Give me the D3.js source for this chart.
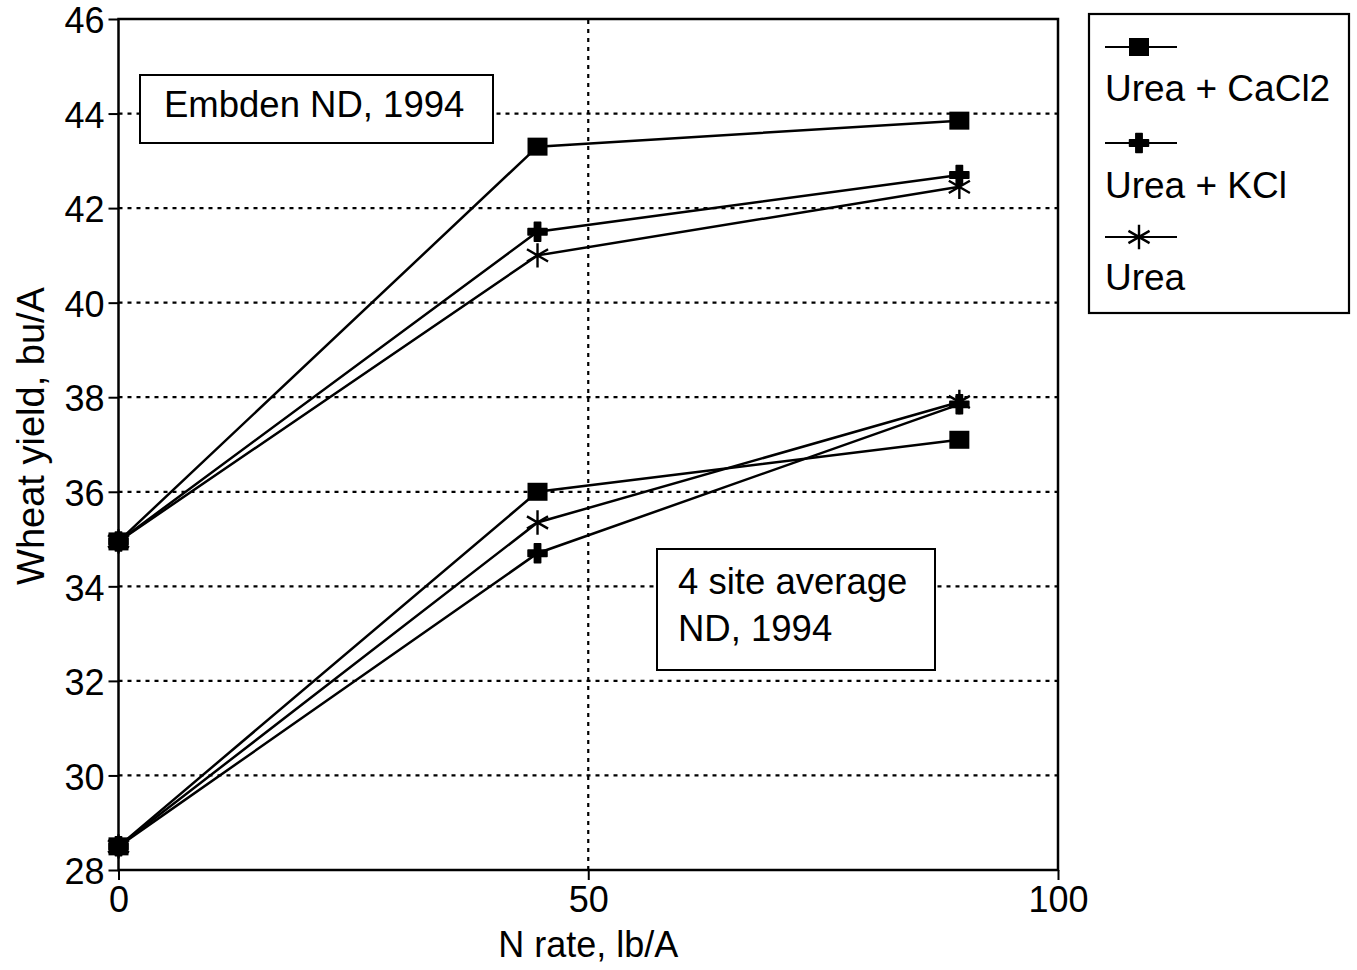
<!DOCTYPE html>
<html>
<head>
<meta charset="utf-8">
<script src="https://cdn.jsdelivr.net/npm/d3@7"></script>
<style>
  body { margin: 0; background: #fff; }
  text { font-family: "Liberation Sans", Arial, sans-serif; fill: #000; }
</style>
</head>
<body>
<div id="chart"></div>
<script>
// values
var nRates = [0, 44.6, 89.5];
var seriesNames = ["Urea + CaCl2", "Urea + KCl", "Urea"];
var seriesSymbols = ["square", "cross", "star"];

var embdenCaCl2 = [34.95, 43.3, 43.85];
var embdenKCl   = [34.95, 41.5, 42.7];
var embdenUrea  = [34.95, 41.0, 42.45];

var siteCaCl2 = [28.5, 36.0, 37.1];
var siteKCl   = [28.5, 34.7, 37.85];
var siteUrea  = [28.5, 35.35, 37.9];

var yTicks = [28, 30, 32, 34, 36, 38, 40, 42, 44, 46];
var xTicks = [0, 50, 100];

var width = 1357, height = 970;
var margin = {t: 19, r: 299, b: 100, l: 118.5};

var svg = d3.select("#chart")
    .append("svg")
    .attr("width", width)
    .attr("height", height);

var x = d3.scaleLinear().domain([0, 100]).range([margin.l, width - margin.r]);
var y = d3.scaleLinear().domain([28, 46]).range([height - margin.b, margin.t]);

// dotted grid
svg.append("g").selectAll("line.h")
    .data(yTicks.filter(function(d){ return d > 28 && d < 46; }))
    .enter().append("line")
    .attr("x1", x(0)).attr("x2", x(100))
    .attr("y1", function(d){ return y(d); })
    .attr("y2", function(d){ return y(d); })
    .style("stroke", "#000")
    .style("stroke-width", 2.2)
    .style("stroke-dasharray", "4,5");

svg.append("line")
    .attr("x1", x(50)).attr("x2", x(50))
    .attr("y1", y(28)).attr("y2", y(46))
    .style("stroke", "#000")
    .style("stroke-width", 2.2)
    .style("stroke-dasharray", "4,5");

// axes
var yAxis = svg.append("g")
    .attr("transform", "translate(" + x(0) + ",0)")
    .call(d3.axisLeft(y).tickValues(yTicks).tickSize(10).tickSizeOuter(0).tickPadding(4));
var xAxis = svg.append("g")
    .attr("transform", "translate(0," + y(28) + ")")
    .call(d3.axisBottom(x).tickValues(xTicks).tickSize(10).tickSizeOuter(0).tickPadding(4));

[yAxis, xAxis].forEach(function(a){
  a.select(".domain").remove();
  a.selectAll("line").style("stroke-width", 2);
  a.selectAll("text")
    .style("font-family", '"Liberation Sans", Arial, sans-serif')
    .style("font-size", "36px");
});
yAxis.selectAll("text").attr("dy", "0.38em");
xAxis.selectAll("text").attr("dy", "0.78em");

// frame
svg.append("rect")
    .attr("x", x(0)).attr("y", y(46))
    .attr("width", x(100) - x(0))
    .attr("height", y(28) - y(46))
    .style("fill", "none")
    .style("stroke", "#000")
    .style("stroke-width", 2.5);

// axis titles
svg.append("text")
    .attr("x", x(50))
    .attr("y", 957)
    .attr("text-anchor", "middle")
    .style("font-size", "36px")
    .text("N rate, lb/A");

svg.append("text")
    .attr("transform", "translate(44," + 436 + ") rotate(-90)")
    .attr("text-anchor", "middle")
    .style("font-size", "38px")
    .text("Wheat yield, bu/A");

// markers
function drawMarker(g, kind, cx, cy) {
  if (kind === "square") {
    g.append("rect")
      .attr("x", cx - 10).attr("y", cy - 9)
      .attr("width", 20).attr("height", 18)
      .style("fill", "#000");
  } else if (kind === "cross") {
    g.append("path")
      .attr("transform", "translate(" + cx + "," + cy + ")")
      .attr("d", d3.symbol().type(d3.symbolCross).size(200)())
      .style("fill", "#000")
      .style("stroke", "#000")
      .style("stroke-width", 1.5)
      .style("stroke-linejoin", "round");
  } else {
    g.append("path")
      .attr("transform", "translate(" + cx + "," + cy + ")")
      .attr("d", d3.symbol().type(d3.symbolAsterisk).size(420)())
      .style("fill", "none")
      .style("stroke", "#000")
      .style("stroke-width", 2.4);
  }
}

var line = d3.line()
    .x(function(d, i){ return x(nRates[i]); })
    .y(function(d){ return y(d); });

var allSeries = [
  {vals: embdenCaCl2, sym: "square"},
  {vals: embdenKCl, sym: "cross"},
  {vals: embdenUrea, sym: "star"},
  {vals: siteCaCl2, sym: "square"},
  {vals: siteKCl, sym: "cross"},
  {vals: siteUrea, sym: "star"}
];

var lines = svg.append("g");
allSeries.forEach(function(s){
  lines.append("path")
    .attr("d", line(s.vals))
    .style("fill", "none")
    .style("stroke", "#000")
    .style("stroke-width", 2.5);
});
// draw crosses/stars first so squares sit on top at x=0
[2, 1, 0, 5, 4, 3].forEach(function(k){
  var s = allSeries[k];
  s.vals.forEach(function(v, i){
    drawMarker(lines, s.sym, x(nRates[i]), y(v));
  });
});

// site labels
function labelBox(bx, by, bw, bh, textLines, tx, ty0, lineH) {
  svg.append("rect")
    .attr("x", bx).attr("y", by)
    .attr("width", bw).attr("height", bh)
    .style("fill", "#fff")
    .style("stroke", "#000")
    .style("stroke-width", 2);
  textLines.forEach(function(t, i){
    svg.append("text")
      .attr("x", tx)
      .attr("y", ty0 + i * lineH)
      .style("font-size", "36.5px")
      .text(t);
  });
}
labelBox(140, 75, 353, 68, ["Embden ND, 1994"], 164, 117, 0);
labelBox(657, 549, 278, 121, ["4 site average", "ND, 1994"], 678, 594, 47);

// legend
var legend = svg.append("g");
legend.append("rect")
    .attr("x", 1089).attr("y", 14)
    .attr("width", 260).attr("height", 299)
    .style("fill", "#fff")
    .style("stroke", "#000")
    .style("stroke-width", 2.2);

var legY = [47, 143, 237];
var legTextY = [101, 198, 290];
seriesNames.forEach(function(name, i){
  legend.append("line")
    .attr("x1", 1105).attr("x2", 1177)
    .attr("y1", legY[i]).attr("y2", legY[i])
    .style("stroke", "#000")
    .style("stroke-width", 2);
  drawMarker(legend, seriesSymbols[i], 1139, legY[i]);
  legend.append("text")
    .attr("x", 1105)
    .attr("y", legTextY[i])
    .style("font-size", "37px")
    .text(name);
});
</script>
</body>
</html>
